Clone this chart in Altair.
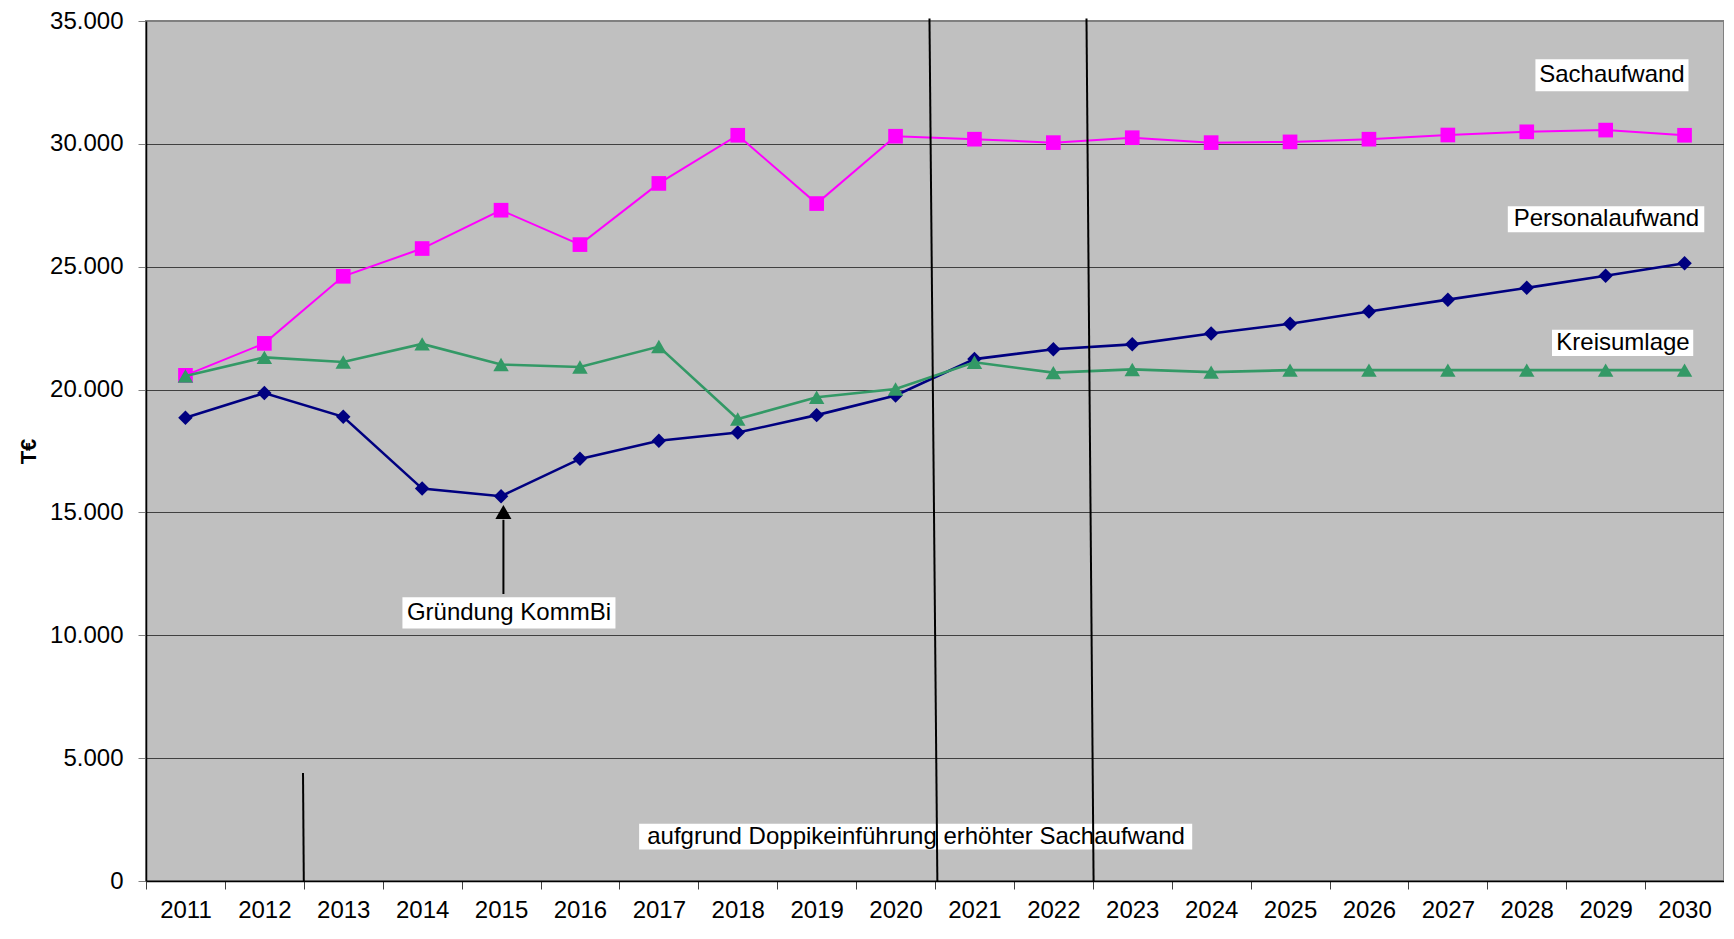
import altair as alt
import pandas as pd

# ---------------- data ----------------
years = [str(y) for y in range(2011, 2031)]
personal = [18850, 19860, 18890, 15970, 15660, 17180, 17920, 18250, 18960, 19760,
            21240, 21640, 21840, 22280, 22680, 23180, 23660, 24140, 24630, 25140]
sach = [20580, 21880, 24610, 25740, 27300, 25900, 28390, 30350, 27570, 30310,
        30190, 30050, 30250, 30050, 30080, 30190, 30360, 30490, 30560, 30350]
kreis = [20550, 21310, 21120, 21860, 21020, 20920, 21750, 18800, 19690, 20020,
         21110, 20690, 20820, 20710, 20790, 20790, 20790, 20790, 20790, 20790]

series_names = ["Personalaufwand", "Sachaufwand", "Kreisumlage"]
series_colors = ["#000080", "#FF00FF", "#339966"]
series_shapes = ["diamond", "square", "triangle-up"]
series_sizes = [210, 215, 240]
series_widths = [2.6, 2, 2.6]

# annotation texts (positions in category-index units / T€ values)
ann_text = ["Sachaufwand", "Personalaufwand", "Kreisumlage", "Gründung KommBi",
            "aufgrund Doppikeinführung erhöhter Sachaufwand"]
ann_xc = [18.58, 18.51, 18.72, 4.60, 9.76]
ann_yc = [32790, 26930, 21900, 10910, 1800]
ann_x0 = [17.61, 17.26, 17.82, 3.25, 6.25]
ann_x1 = [19.55, 19.75, 19.61, 5.95, 13.26]
ann_y0 = [32140, 26400, 21370, 10280, 1280]
ann_y1 = [33440, 27460, 22430, 11550, 2330]

# drawn lines (x in category-index units)
line_x0 = [9.93, 11.92, 1.99, 4.53]
line_x1 = [10.03, 12.01, 2.00, 4.53]
line_y0 = [35100, 35100, 4400, 11680]
line_y1 = [0, 0, 0, 14700]

arrow_x = [4.53]
arrow_y = [15020]

# ---------------- chart ----------------
FONT = "Liberation Sans"
W, H = 1578, 860
YDOM = alt.Scale(domain=[0, 35000], nice=False, zero=True)
XQ = alt.Scale(domain=[0, 20], nice=False, zero=False)

x_axis = alt.Axis(title=None, tickBand="extent", labelAngle=0, labelFont=FONT,
                  labelFontSize=24, labelColor="black", labelPadding=9,
                  tickSize=8, tickColor="#404040", tickWidth=1,
                  domainColor="black", domainWidth=1.5, grid=False)
y_axis = alt.Axis(values=list(range(0, 35001, 5000)),
                  labelExpr="replace(format(datum.value, ',d'), ',', '.')",
                  labelFont=FONT, labelFontSize=24, labelColor="black",
                  labelPadding=15, tickSize=8, tickColor="#808080",
                  domainColor="black", domainWidth=1.5,
                  grid=True,
                  gridColor=alt.condition("datum.value >= 35000 || datum.value <= 0",
                                          alt.value("transparent"), alt.value("#404040")),
                  gridWidth=1,
                  title="T€", titleFont=FONT, titleFontSize=22, titleFontWeight="bold",
                  titleColor="black", titleAngle=-90, titleX=-118, titleY=H / 2,
                  titleAlign="center", titleBaseline="middle")

series_layers = []
for i, (name, vals) in enumerate(zip(series_names, [personal, sach, kreis])):
    d = pd.DataFrame({"year": years, "value": vals, "series": name})
    base = alt.Chart(d).encode(
        x=alt.X("year:O", sort=years,
                scale=alt.Scale(type="band", paddingInner=0, paddingOuter=0),
                axis=x_axis),
        y=alt.Y("value:Q", scale=YDOM, axis=y_axis),
    )
    series_layers.append(base.mark_line(color=series_colors[i], strokeWidth=series_widths[i]))
    series_layers.append(base.mark_point(color=series_colors[i], filled=True, opacity=1,
                                         shape=series_shapes[i], size=series_sizes[i]))

main = alt.layer(*series_layers)

ann_df = pd.DataFrame({"text": ann_text, "xc": ann_xc, "yc": ann_yc,
                       "x0": ann_x0, "x1": ann_x1, "y0": ann_y0, "y1": ann_y1})
lines_df = pd.DataFrame({"x0": line_x0, "x1": line_x1, "y0": line_y0, "y1": line_y1})
arrow_df = pd.DataFrame({"x": arrow_x, "y": arrow_y})

rules = alt.Chart(lines_df).mark_rule(color="black", strokeWidth=2).encode(
    x=alt.X("x0:Q", scale=XQ, axis=None), x2="x1:Q",
    y=alt.Y("y0:Q", scale=YDOM, axis=y_axis), y2="y1:Q")
head = alt.Chart(arrow_df).mark_point(shape="triangle-up", filled=True, color="black",
                                      opacity=1, size=260).encode(
    x=alt.X("x:Q", scale=XQ, axis=None),
    y=alt.Y("y:Q", scale=YDOM, axis=y_axis))
boxes = alt.Chart(ann_df).mark_rect(fill="white", stroke=None).encode(
    x=alt.X("x0:Q", scale=XQ, axis=None), x2="x1:Q",
    y=alt.Y("y0:Q", scale=YDOM, axis=y_axis), y2="y1:Q")
texts = alt.Chart(ann_df).mark_text(font=FONT, fontSize=24, color="black",
                                    align="center", baseline="middle").encode(
    x=alt.X("xc:Q", scale=XQ, axis=None),
    y=alt.Y("yc:Q", scale=YDOM, axis=y_axis),
    text="text:N")

ann = alt.layer(boxes, rules, head, texts)

chart = alt.layer(main, ann).resolve_scale(x="independent").properties(
    width=W, height=H,
    autosize=alt.AutoSizeParams(type="none"),
    padding={"left": 138, "top": 13, "right": 0, "bottom": 45},
    background="white",
).configure_view(fill="#C0C0C0", stroke="#808080", strokeWidth=2)

chart.save("out.html", embed_options={"renderer": "svg", "actions": False})
